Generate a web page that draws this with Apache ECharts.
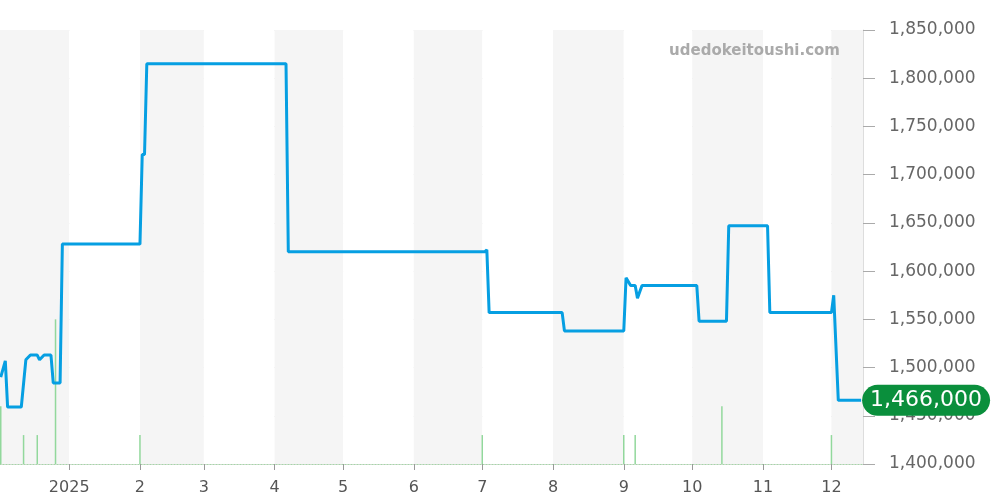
<!DOCTYPE html>
<html>
<head>
<meta charset="utf-8">
<script src="https://cdn.jsdelivr.net/npm/echarts@6/dist/echarts.min.js"></script>
<style>html,body{margin:0;padding:0;background:#fff}#c{width:1000px;height:500px}</style>
</head>
<body>
<div id="c"></div>
<script>
const priceDates = ['2024-12-02','2024-12-04','2024-12-05','2024-12-11','2024-12-13','2024-12-15','2024-12-18','2024-12-19','2024-12-21','2024-12-24','2024-12-25','2024-12-28','2024-12-29','2025-02-01','2025-02-02','2025-02-03','2025-02-04','2025-04-06','2025-04-07','2025-07-02','2025-07-03','2025-07-04','2025-08-05','2025-08-06','2025-09-01','2025-09-02','2025-09-04','2025-09-06','2025-09-07','2025-09-09','2025-10-03','2025-10-04','2025-10-16','2025-10-17','2025-11-03','2025-11-04','2025-12-01','2025-12-02','2025-12-04','2025-12-14'];
const priceValues = [1490000,1507000,1459000,1459000,1508000,1513000,1513000,1508000,1513000,1513000,1484000,1484000,1628000,1628000,1721000,1721000,1815000,1815000,1620000,1620000,1622000,1557000,1557000,1538000,1538000,1593000,1585000,1585000,1572000,1585000,1585000,1548000,1548000,1647000,1647000,1557000,1557000,1575000,1466000,1466000];
const volumeDates = ['2024-12-02','2024-12-12','2024-12-18','2024-12-26','2025-02-01','2025-07-01','2025-09-01','2025-09-06','2025-10-14','2025-12-01'];
const volumeValues = [2,1,1,5,1,1,1,1,2,1];
const yTicks = {min:1400000, max:1850000, interval:50000};
const xRange = {min:'2024-12-02', max:'2025-12-14T12:00'};
const watermark = 'udedokeitoushi.com';

const chart = echarts.init(document.getElementById('c'));
const fmt = v => Math.round(v).toString().replace(/\B(?=(\d{3})+(?!\d))/g, ',');
chart.setOption({
  animation:false,
  textStyle:{fontFamily:'DejaVu Sans'},
  grid:{left:0, right:137, top:30, bottom:36},
  graphic:[{type:'text', right:160, top:44, z:100, style:{text:watermark, fill:'#aaaaaa', fontSize:15, fontWeight:'bold', fontFamily:'DejaVu Sans'}}],
  xAxis:{
    type:'time', min:xRange.min, max:xRange.max, splitNumber:12,
    minInterval:28*86400000, maxInterval:31*86400000,
    axisLine:{show:true, lineStyle:{color:'#a5d6a7', type:[1,2], width:1}},
    axisTick:{show:true, length:6, lineStyle:{color:'#999'}},
    axisLabel:{color:'#555', fontSize:16, margin:16, formatter:function(v){const d=new Date(v); return d.getMonth()===0? String(d.getFullYear()) : String(d.getMonth()+1);}},
    splitLine:{show:false},
    splitArea:{show:true, areaStyle:{color:['#f5f5f5','#ffffff']}}
  },
  yAxis:[{
    type:'value', position:'right', min:yTicks.min, max:yTicks.max, interval:yTicks.interval,
    axisLine:{show:true, lineStyle:{color:'#ddd'}},
    axisTick:{show:true, length:12, lineStyle:{color:'#aaa'}},
    axisLabel:{color:'#666', fontSize:17, margin:26, padding:[3,0,0,0], formatter:fmt},
    splitLine:{lineStyle:{color:'#e0e0e0'}}
  },{
    type:'value', min:0, max:15, show:false, splitLine:{show:false}
  }],
  series:[{
    type:'bar', yAxisIndex:1, barWidth:1.5,
    itemStyle:{color:'#92d89c'},
    data: volumeDates.map((d,i)=>[d, volumeValues[i]])
  },{
    type:'line', yAxisIndex:0, symbol:'none',
    lineStyle:{color:'#069fe2', width:3},
    data: priceDates.map((d,i)=>[d, priceValues[i]]),
    endLabel:{show:true, distance:1, formatter:p=>fmt(p.value[1]), color:'#fff', fontSize:22, backgroundColor:'#0a8f3c', borderRadius:16, padding:[5,8,4,8]}
  }]
});
</script>
</body>
</html>
